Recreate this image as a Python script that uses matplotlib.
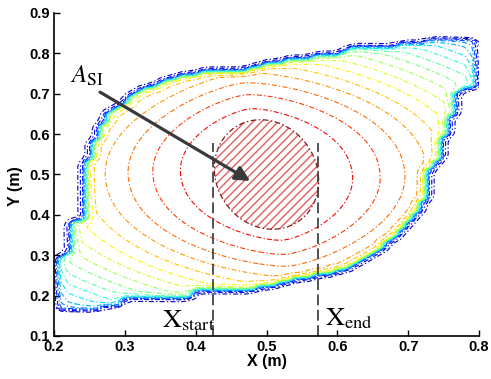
import numpy as np
import matplotlib
matplotlib.use('Agg')
import matplotlib.pyplot as plt
from matplotlib.path import Path
from matplotlib.patches import Ellipse

plt.rcParams['font.family'] = ['Liberation Sans', 'DejaVu Sans']
plt.rcParams['mathtext.fontset'] = 'stix'

# borde del dominio (m)
borde_x = [0.799, 0.717, 0.696, 0.618, 0.604, 0.557, 0.509, 0.463, 0.406, 0.350,
           0.307, 0.279, 0.265, 0.258, 0.242, 0.240, 0.223, 0.223, 0.203, 0.203,
           0.220, 0.296, 0.300, 0.388, 0.396, 0.477, 0.509, 0.576, 0.604, 0.642,
           0.664, 0.688, 0.707, 0.727, 0.731, 0.746, 0.751, 0.765, 0.769, 0.793, 0.799]
borde_y = [0.841, 0.828, 0.821, 0.813, 0.801, 0.789, 0.774, 0.756, 0.751, 0.729,
           0.689, 0.652, 0.615, 0.573, 0.506, 0.387, 0.380, 0.305, 0.283, 0.172,
           0.164, 0.174, 0.192, 0.194, 0.211, 0.214, 0.229, 0.253, 0.263, 0.296,
           0.320, 0.360, 0.395, 0.462, 0.528, 0.543, 0.610, 0.660, 0.709, 0.717, 0.808]

# campo normalizado: centro, escalas (m), exponentes y giro (grados)
centro = (0.50, 0.50)
escala = (0.592, 0.494)
exponente = (1.45, 2.1)
giro = 8

niveles = [0.05, 0.10, 0.15, 0.20, 0.25, 0.30, 0.35, 0.40, 0.45,
           0.50, 0.55, 0.60, 0.65, 0.70, 0.75, 0.80, 0.85, 0.90]

# zona A_SI (rayada)
asi_centro = (0.50, 0.50)
asi_ancho = 0.146
asi_alto = 0.272
asi_giro = 5

x_start = 0.425
x_end = 0.573
y_lineas = (0.10, 0.578)

flecha_desde = (0.265, 0.704)
flecha_hasta = (0.477, 0.484)

# malla
paso = 0.01
xs = np.arange(0.15, 0.85 + paso / 2, paso)
ys = np.arange(0.10, 0.90 + paso / 2, paso)
X, Y = np.meshgrid(xs, ys)

a = np.deg2rad(giro)
u = X - centro[0]
v = Y - centro[1]
ur = u * np.cos(a) + v * np.sin(a)
vr = -u * np.sin(a) + v * np.cos(a)
Z = 1 - (ur**2 + 1e-5) ** (exponente[0] / 2) / escala[0] ** exponente[0] \
      - np.abs(vr / escala[1]) ** exponente[1]
Z = np.clip(Z, 0, None)

dominio = Path(np.column_stack([borde_x, borde_y]))
dentro = dominio.contains_points(np.column_stack([X.ravel(), Y.ravel()])).reshape(X.shape)
# el borde del mallado se suaviza un poco (promedio 3x3) para que las lineas se apilen
m = np.pad(dentro.astype(float), 1, mode='edge')
ny, nx = dentro.shape
mascara = sum(m[i:i + ny, j:j + nx] for i in range(3) for j in range(3)) / 9.0
mascara = np.where(dentro, mascara ** 0.3, mascara * 0.6)
Z = Z * mascara

fig = plt.figure(figsize=(4.91, 3.79), dpi=100)
ax = fig.add_axes([0.110, 0.1135, 0.8656, 0.8522])

ax.contour(X, Y, Z, levels=niveles, cmap='jet', vmin=0, vmax=1,
           linewidths=0.8, linestyles=[(0, (4.5, 2, 1.2, 2))])

ax.add_patch(Ellipse(asi_centro, asi_ancho, height=asi_alto, angle=asi_giro,
                     facecolor='none', edgecolor='#e06060', hatch='////', linewidth=0))
ax.add_patch(Ellipse(asi_centro, asi_ancho, height=asi_alto, angle=asi_giro,
                     facecolor='none', edgecolor='#8b1a1a', linewidth=0.9,
                     linestyle=(0, (4.5, 2, 1.2, 2))))

for xv in [x_start, x_end]:
    ax.plot([xv, xv], y_lineas, color='#444444', lw=1.3, linestyle=(0, (6, 2.5)))

ax.annotate('', xy=flecha_hasta, xytext=flecha_desde,
            arrowprops=dict(arrowstyle='-|>', color='#3a3a3a', lw=2.3,
                            mutation_scale=22, shrinkA=0, shrinkB=0))

ax.text(0.352, 0.122, r'$\mathrm{X}_{\mathrm{start}}$', fontsize=19, va='baseline')
ax.text(0.583, 0.127, r'$\mathrm{X}_{\mathrm{end}}$', fontsize=19, va='baseline')
ax.text(0.222, 0.727, r'$A_{\mathrm{SI}}$', fontsize=18, va='baseline')

ax.set_xlim(0.2, 0.8)
ax.set_ylim(0.1, 0.9)
ax.set_xticks([0.2, 0.3, 0.4, 0.5, 0.6, 0.7, 0.8])
ax.set_yticks([0.1, 0.2, 0.3, 0.4, 0.5, 0.6, 0.7, 0.8, 0.9])
ax.tick_params(direction='in', length=4, width=1, labelsize=10.5, pad=3)
for lab in ax.get_xticklabels() + ax.get_yticklabels():
    lab.set_fontweight('bold')
ax.spines['top'].set_visible(False)
ax.spines['right'].set_visible(False)
for s in ['left', 'bottom']:
    ax.spines[s].set_linewidth(1.2)

ax.set_xlabel('X (m)', fontsize=11.5, fontweight='bold', labelpad=0)
ax.set_ylabel('Y (m)', fontsize=11.5, fontweight='bold')
ax.yaxis.set_label_coords(-0.072, 0.465)

fig.savefig('out.png', dpi=100)
